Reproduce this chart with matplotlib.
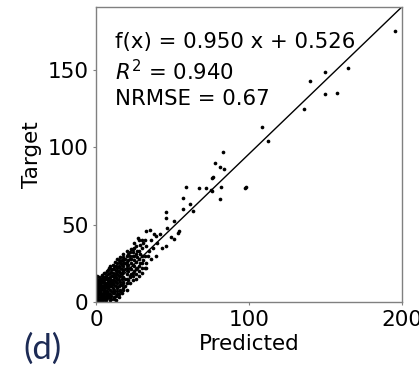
import matplotlib
matplotlib.use("Agg")
import matplotlib.pyplot as plt
import numpy as np

# fit parameters shown on the chart
slope = 0.950
intercept = 0.526
r2 = 0.940
nrmse = 0.67

# scatter points (predicted, target)
predicted = [
    0, 0.5, 1, 0.3, 1.5, 2, 2.5, 3, 0.8, 1.2, 0.4, 0.2, 0.6, 0.3, 1.5, 2, 2.8, 3.5, 4, 4.5,
    5, 5.5, 3.8, 3, 2, 1, 4, 5, 6, 6.5, 7, 6, 5, 4.5, 3, 2, 6, 7, 8, 8,
    7.5, 9, 9, 10, 9, 8, 7, 5.5, 4, 10, 11, 11, 10, 9, 8, 6, 12, 12, 11, 13,
    13, 12, 10, 14, 14, 13, 11, 15, 15, 16, 16, 14, 12, 17, 17, 18, 18, 19, 20, 20,
    21, 22, 23, 24, 25, 26, 27, 28, 18, 16, 20, 22, 24, 26, 29, 30, 31, 32, 28, 25,
    10, 12, 14, 16, 18, 20, 22, 24, 26, 28, 30, 32, 33, 12, 14, 16, 18, 20, 22, 24,
    26, 28, 30, 13, 15, 0.1, 0, 0.5, 1.8, 3.2, 4.2, 6.8, 8.5, 9.5, 11.5, 0.9, 2.3, 3.6, 5.2,
    0, 0, 0, 0, 0, 0.3, 1, 1.5, 1, 2, 2, 2,
    3, 3, 3, 3.5, 4, 4, 4, 5, 5, 5, 5,
    6, 6, 6, 6, 6.5, 7, 7, 7, 8, 8, 8, 8, 8.5,
    9, 9, 9, 9, 9.5, 10, 10, 10, 10, 11, 11, 11, 11,
    12, 12, 12, 12, 12.5, 13, 13, 13, 13, 14, 14, 14, 14, 14,
    15, 15, 15, 15, 15, 16, 16, 16, 16, 16, 17, 17, 17, 17, 17,
    18, 18, 18, 18, 18, 18, 19, 19, 19, 19, 20, 20, 20, 20,
    21, 21, 21, 21, 22, 22, 22, 23, 23, 23, 23, 24, 24, 24, 25, 25, 25, 25,
    26, 26, 27, 27, 28, 28, 29, 29, 30, 30, 30, 31, 32, 33, 33, 34, 35, 36, 36, 37, 38, 39, 40, 42, 43,
    27.2, 39.2, 32.7, 35.5, 45.8, 49.0, 51.2, 53.4, 54.5, 46.4, 45.8, 51.2, 45.8, 56.6, 61.4, 63.2,
    56.6, 58.8, 67.5, 71.9, 75.2, 81.7, 97.6, 81.0, 76.2, 77.9, 81.0, 83.8, 83.4, 76.7, 75.6,
    97.8, 108.7, 112.2, 135.9, 139.9, 149.7, 149.7, 157.3, 164.5, 195.4,
]
target = [
    0, 1, 2, 3, 0.5, 1.5, 3, 4, 5, 6.5, 8, 10, 12, 14, 9, 7, 5.5, 2, 3.5, 5,
    6.5, 8, 9.5, 11, 12.5, 11, 0.8, 2, 3.5, 5, 7, 9, 11, 13, 14.5, 16, 12, 10.5, 9, 6,
    4, 5, 8, 10, 12, 13.5, 15, 16, 17, 7, 9, 12, 14, 16, 18, 19, 11, 14, 16.5, 13,
    16, 18, 19.5, 15, 18, 20, 21, 17, 20, 19, 22, 22, 23, 21, 24, 20, 23, 25, 22, 26,
    24, 28, 25, 30, 27, 31, 29, 33, 27, 26, 30, 32, 34, 36, 37, 35, 38, 40, 40, 38,
    2, 3, 5, 7, 9, 8, 12, 14, 15, 17, 19, 22, 22, 6, 9, 11, 13, 15, 17, 19,
    21, 23, 25, 1.5, 3, 15, 13, 17, 13.5, 7.5, 1.5, 1.2, 3, 11, 7, 4, 10, 0.3, 10,
    2, 4, 6, 8, 11, 16, 14, 12, 3, 5, 9, 14,
    1, 6, 8.5, 13, 15, 17.5, 10.5, 4, 9, 14, 18.5,
    1, 6.5, 11, 15, 17, 20, 2.5, 12.5, 4, 11, 15.5, 20.5, 22,
    1.5, 10, 14, 19, 23, 4, 12, 17, 21, 6, 14, 19, 24,
    2, 8, 16, 21, 26, 4, 10, 18, 23, 7, 12, 20, 25, 28,
    5, 10, 14, 23, 27, 8, 13, 17, 25, 29, 6, 11, 15, 19, 27,
    8, 12, 16, 25, 29, 31, 10, 15, 21, 28, 12, 18, 24, 33,
    14, 20, 27, 31, 16, 22, 30, 18, 21, 28, 34, 17, 24, 32, 20, 23, 30, 35,
    18, 26, 22, 33, 20, 28, 25, 31, 22, 30, 40, 27, 30, 25, 36, 30, 33, 28, 40, 35, 44, 30, 38, 44, 35,
    41.4, 42.4, 45.6, 46.5, 35.9, 42.0, 40.7, 44.6, 46.1, 47.8, 54.3, 52.6, 58.2, 60.2, 63.0, 58.6,
    67.3, 74.2, 73.4, 73.8, 72.3, 74.2, 73.8, 66.2, 80.3, 90.0, 87.4, 86.1, 97.0, 80.7, 71.6,
    74.5, 112.8, 104.1, 124.7, 142.4, 148.5, 134.4, 135.0, 151.3, 175.3,
]

xlim = (0, 200)

fig = plt.figure(figsize=(4.19, 3.66), dpi=100)
ax = fig.add_axes([0.229, 0.175, 0.730, 0.806])

ax.scatter(predicted, target, s=7, c="black", marker="o", linewidths=0)
xs = np.array(xlim)
ax.plot(xs, slope * xs + intercept, color="black", lw=1)

ax.set_xlim(*xlim)
ax.set_ylim(0, slope * xlim[1] + intercept)
ax.set_xticks([0, 100, 200])
ax.set_yticks([0, 50, 100, 150])

ax.tick_params(labelsize=15.5, length=2.5, width=0.8, pad=3, color="#808080")
for sp in ax.spines.values():
    sp.set_color("#808080")
    sp.set_linewidth(1.0)

ax.set_xlabel("Predicted", fontsize=15.5, labelpad=3)
ax.set_ylabel("Target", fontsize=15.5)
ax.yaxis.set_label_coords(-0.175, 0.5)

txt = ("f(x) = %.3f x + %.3f\n$R^2$ = %.3f\nNRMSE = %.2f"
       % (slope, intercept, r2, nrmse))
ax.text(0.062, 0.915, txt, transform=ax.transAxes, va="top", ha="left",
        fontsize=15.3, linespacing=1.32)

fig.text(0.055, 0.02, "(d)", fontsize=25, color="#1d2b55", family="Lato")

fig.savefig("out.png", dpi=100)
